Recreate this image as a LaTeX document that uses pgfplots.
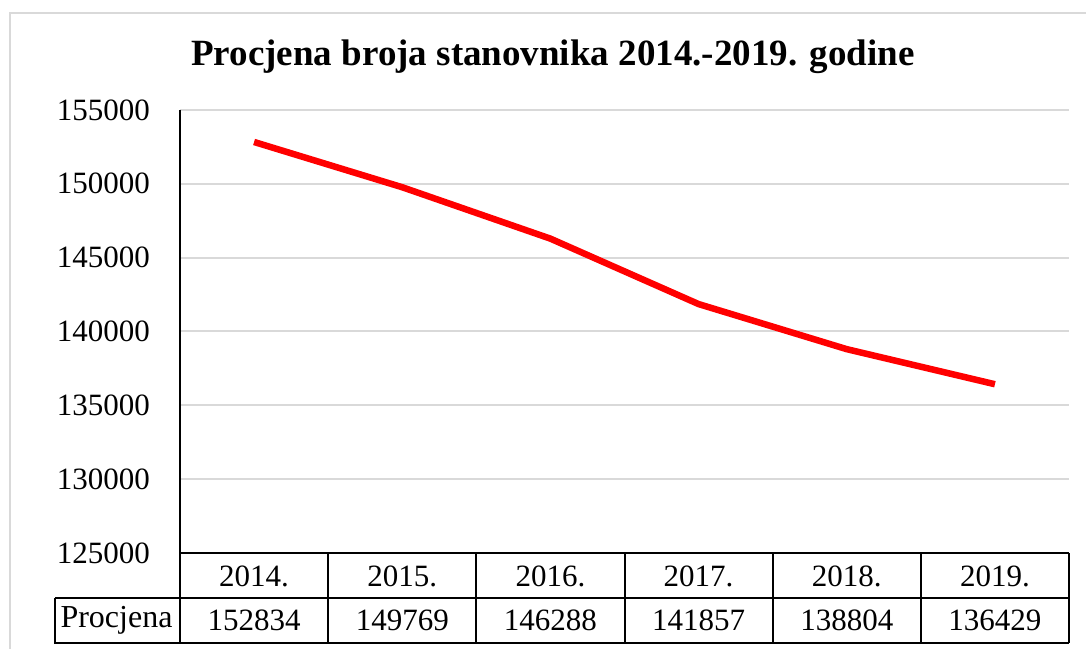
\documentclass[border=0pt]{standalone}
\usepackage{fontspec}
\setmainfont{Liberation Serif}
\usepackage{pgfplots}
\pgfplotsset{compat=1.18}
\definecolor{gridgray}{RGB}{217,217,217}
\begin{document}
\begin{tikzpicture}
\useasboundingbox (0pt,0pt) rectangle (1086pt,648pt);
\draw[gridgray,line width=2pt] (10pt,-20pt) rectangle (1110pt,635pt);
\node[font=\bfseries\fontsize{37}{42}\selectfont] at (553pt,591pt) {Procjena broja stanovnika 2014.-2019. godine};
\begin{axis}[at={(180pt,95pt)},anchor=south west,scale only axis,
  width=889pt,height=443pt,
  xmin=0,xmax=6,ymin=125000,ymax=155000,
  ytick={125000,130000,135000,140000,145000,150000,155000},
  yticklabels={125000,130000,135000,140000,145000,150000,155000},
  xtick={0.5,1.5,2.5,3.5,4.5,5.5},
  xticklabels={2014.,2015.,2016.,2017.,2018.,2019.},
  scaled y ticks=false,
  axis lines=left,
  axis line style={-,black,line width=2pt},
  major tick length=0pt,
  ymajorgrids,
  grid style={gridgray,line width=2pt},
  ticklabel style={font=\fontsize{31}{36}\selectfont},
  yticklabel style={anchor=east,inner sep=0pt,xshift=-30pt},
  xticklabel style={anchor=center,inner sep=0pt,yshift=-23pt},
  clip=false]
\addplot[red,line width=6.5pt,line join=round] coordinates {
  (0.5,152834) (1.5,149769) (2.5,146288) (3.5,141857) (4.5,138804) (5.5,136429)};
\node[font=\fontsize{31}{36}\selectfont,yshift=-67.5pt] at (axis cs:0.5,125000) {152834};
\node[font=\fontsize{31}{36}\selectfont,yshift=-67.5pt] at (axis cs:1.5,125000) {149769};
\node[font=\fontsize{31}{36}\selectfont,yshift=-67.5pt] at (axis cs:2.5,125000) {146288};
\node[font=\fontsize{31}{36}\selectfont,yshift=-67.5pt] at (axis cs:3.5,125000) {141857};
\node[font=\fontsize{31}{36}\selectfont,yshift=-67.5pt] at (axis cs:4.5,125000) {138804};
\node[font=\fontsize{31}{36}\selectfont,yshift=-67.5pt] at (axis cs:5.5,125000) {136429};
\end{axis}
% data table grid
\foreach \i in {0,...,6} {
  \draw[black,line width=2pt] ({180pt+148.1667pt*\i},95pt) -- ({180pt+148.1667pt*\i},5pt);
}
\draw[black,line width=2pt] (55pt,50pt) -- (1069pt,50pt);
\draw[black,line width=2pt] (55pt,50pt) -- (55pt,5pt) -- (1069pt,5pt);
\node[font=\fontsize{32}{36}\selectfont] at (116.5pt,27.5pt) {Procjena};
\end{tikzpicture}
\end{document}
